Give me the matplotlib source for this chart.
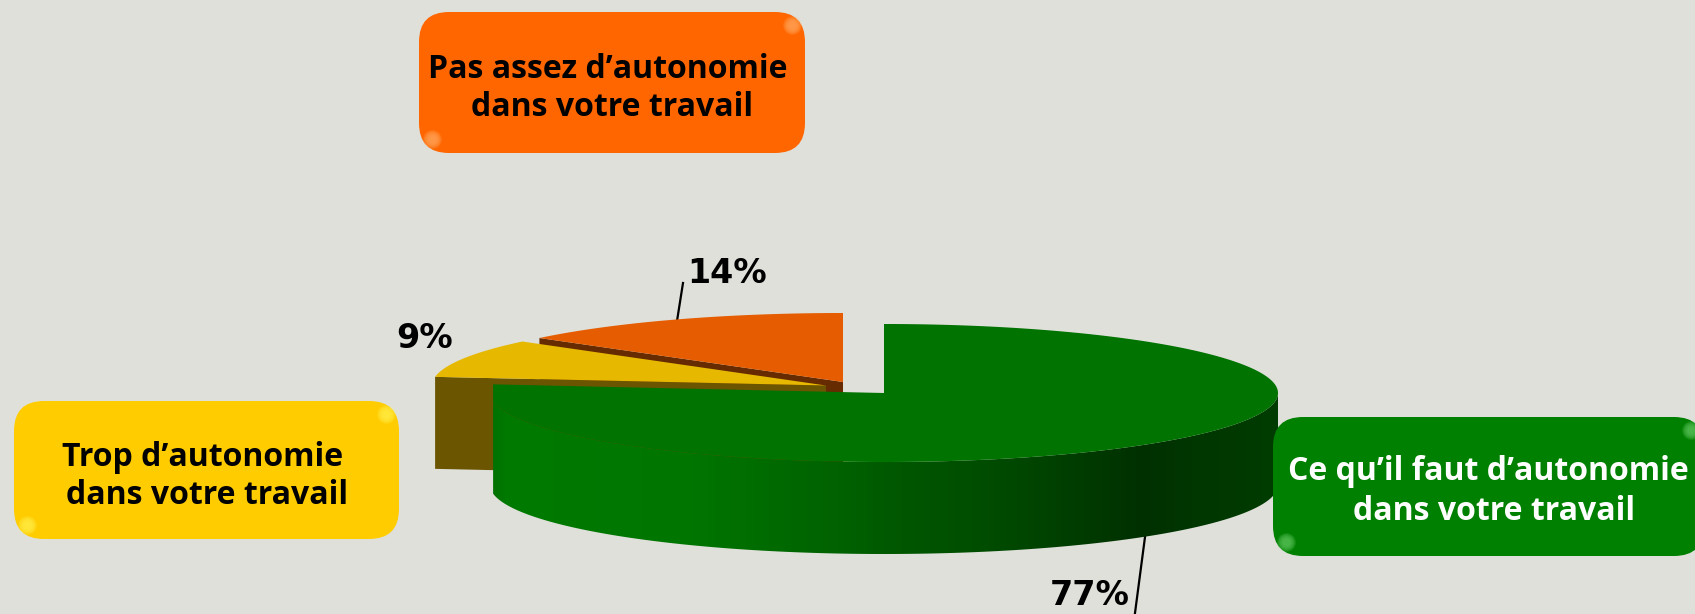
import numpy as np
import matplotlib
matplotlib.use("Agg")
import matplotlib.pyplot as plt
from matplotlib.patches import FancyBboxPatch, Polygon
from matplotlib.colors import LinearSegmentedColormap

# values, clockwise from 12 o'clock
categories = ["Ce qu\u2019il faut d\u2019autonomie\ndans votre travail",
              "Trop d\u2019autonomie\ndans votre travail",
              "Pas assez d\u2019autonomie\ndans votre travail"]
shares = [77, 9, 14]
pct_labels = ["77%", "9%", "14%"]

top_colors = ["#007300", "#e6b800", "#e65c00"]
wall_colors = ["#007a00", "#6b5500", "#662b00"]
box_colors = ["#008000", "#ffcc00", "#ff6600"]
highlight = ["#7fe07f", "#ffff66", "#ffc27f"]
text_colors = ["white", "black", "black"]

W, H = 1695, 614
bg = "#dfe0da"
centers = [(884, 393), (826, 385.5), (843, 382)]
A, B, DEPTH = 394, 69, 92

fig = plt.figure(figsize=(W / 100, H / 100), dpi=100, facecolor=bg)
ax = fig.add_axes([0, 0, 1, 1])
ax.set_xlim(0, W)
ax.set_ylim(H, 0)
ax.axis("off")


def arc(c, a0, a1, n=200):
    t = np.radians(np.linspace(a0, a1, n))
    return np.column_stack([c[0] + A * np.sin(t), c[1] - B * np.cos(t)])


edges = np.cumsum([0] + shares) / sum(shares) * 360

# back slices first, orange then yellow
for i in [2, 1]:
    c = centers[i]
    a0, a1 = edges[i], edges[i + 1]
    rim = arc(c, a0, a1)
    # cut wall facing the viewer
    p = arc(c, a0, a0, 1)[0]
    wall = [p, c, (c[0], c[1] + DEPTH), (p[0], p[1] + DEPTH)]
    ax.add_patch(Polygon(wall, closed=True, fc=wall_colors[i], ec="none", zorder=2 + (2 - i)))
    ax.add_patch(Polygon(np.vstack([[c], rim]), closed=True, fc=top_colors[i], ec="none", zorder=2 + (2 - i)))

# green slice: side with gradient, then top, left bulge is cut flat
c = centers[0]
left = arc(c, edges[1], edges[1], 1)[0]
front = arc(c, 90, 360 - edges[1] + 180)
side = np.vstack([front, [[left[0], left[1]]], front[::-1] + [0, DEPTH]])
side_patch = Polygon(side, closed=True, fc="none", ec="none", transform=ax.transData)
ax.add_patch(side_patch)
stops = [(490, "#007200"), (505, "#007a00"), (684, "#007600"), (837, "#006200"), (914, "#005500"),
         (990, "#004c00"), (1092, "#003a00"), (1143, "#003000"), (1194, "#003600"), (1278, "#003c00")]
x0, x1 = stops[0][0], stops[-1][0]
cmap = LinearSegmentedColormap.from_list("side", [((x - x0) / (x1 - x0), col) for x, col in stops])
im = ax.imshow(np.linspace(0, 1, 400)[None, :], cmap=cmap, aspect="auto",
               extent=[x0, x1, 570, 380], zorder=5)
im.set_clip_path(side_patch)
ax.set_xlim(0, W)
ax.set_ylim(H, 0)
top = arc(c, edges[0], edges[1], 500)
top[:, 0] = np.maximum(top[:, 0], left[0])
ax.add_patch(Polygon(np.vstack([[c], top]), closed=True, fc=top_colors[0], ec="none", zorder=6))

# leader lines and percent labels
ax.plot([1145, 1135], [537, 613], color="black", lw=1.6, zorder=4)
ax.plot([683, 677], [283, 321], color="black", lw=1.6, zorder=1)
pct_pos = [(1090, 592), (425, 335), (727, 270)]
for lab, (x, y) in zip(pct_labels, pct_pos):
    ax.text(x, y, lab, fontsize=24, fontweight="bold", family="DejaVu Sans",
            ha="center", va="center_baseline", color="black", zorder=8)

# labelled boxes
boxes = [(1273, 417, 1704, 556), (14, 401, 399, 539), (419, 12, 805, 153)]
line_pos = [[(1488, 468), (1494, 508)], [(203, 453), (207, 492)], [(608, 65), (612, 103)]]
for i, (l, t, r, b) in enumerate(boxes):
    ax.add_patch(FancyBboxPatch((l, t), r - l, b - t, boxstyle="round,pad=0,rounding_size=30",
                                fc=box_colors[i], ec="none", zorder=9))
    for k in range(9):
        s = 190 - 20 * k
        for hx, hy in [(r - 13, t + 13), (l + 13, b - 14)]:
            ax.scatter(hx, hy, s=s, color=highlight[i], alpha=0.09, linewidths=0, zorder=10)
    for line, (x, y) in zip(categories[i].split("\n"), line_pos[i]):
        ax.text(x, y, line, fontsize=23, fontweight="bold", family="Open Sans",
                ha="center", va="center_baseline", color=text_colors[i], zorder=11)

fig.savefig("out.png", dpi=100, facecolor=bg)
